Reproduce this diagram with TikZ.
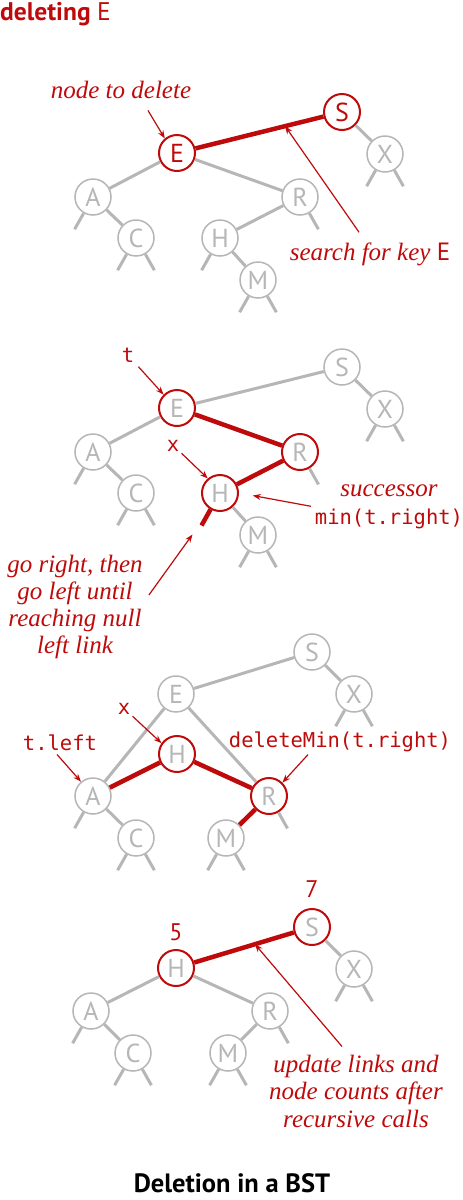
\documentclass[tikz,border=0pt]{standalone}
\usepackage{fontspec}
\setsansfont{PT Sans}
\setmonofont{DejaVu Sans Mono}
\newfontfamily\notefont{Liberation Serif}
\usepackage{tikz}
\usetikzlibrary{arrows.meta,positioning}
\definecolor{bookred}{RGB}{190,10,10}
\definecolor{keygray}{RGB}{182,182,182}

% null links below a node
\newcommand{\nullL}[2][keygray]{\draw[line width=3pt,#1] (#2.240) -- ++(-9,16);}
\newcommand{\nullR}[2][keygray]{\draw[line width=3pt,#1] (#2.300) -- ++(9,16);}

\begin{document}
\begin{tikzpicture}[x=1pt,y=-1pt]
  \tikzset{
    key/.style={circle,draw=keygray,fill=white,line width=1.5pt,minimum size=36pt,inner sep=0pt,
      text=keygray,font=\fontsize{26}{26}\selectfont\sffamily},
    hit/.style={key,draw=bookred,line width=2pt},
    hitkey/.style={hit,text=bookred},
    link/.style={draw=keygray,line width=3pt},
    redlink/.style={draw=bookred,line width=4.5pt},
    note/.style={text=bookred,font=\fontsize{25}{27}\selectfont\notefont\itshape,align=center,inner sep=0pt},
    code/.style={text=bookred,font=\fontsize{20.5}{27}\selectfont\ttfamily,inner sep=0pt},
    count/.style={text=bookred,font=\fontsize{24}{27}\selectfont\sffamily,inner sep=0pt},
    callout/.style={draw=bookred,line width=1.2pt,-{Stealth[length=8pt,width=6pt]}}
  }
  \useasboundingbox (0,0) rectangle (463,1200);

  \node[anchor=base west,text=bookred,font=\fontsize{25.5}{27}\selectfont\sffamily,inner sep=0pt] (title) at (0,20)
    {\bfseries deleting \mdseries E};

  % search for E
  \node[hitkey] (S1) at (342,112) {S};
  \node[hitkey] (E1) at (177,153) {E};
  \node[key] (X1) at (385,154) {X};
  \node[key] (A1) at (93,197) {A};
  \node[key] (R1) at (300,197) {R};
  \node[key] (C1) at (136,238) {C};
  \node[key] (H1) at (220,238) {H};
  \node[key] (M1) at (258,280) {M};
  \draw[redlink] (E1) -- coordinate[pos=0.7] (k1) (S1);
  \draw[link] (S1) -- (X1); \draw[link] (E1) -- (A1); \draw[link] (E1) -- (R1);
  \draw[link] (A1) -- (C1); \draw[link] (R1) -- (H1); \draw[link] (H1) -- (M1);
  \nullL{A1} \nullL{C1} \nullR{C1} \nullL{H1} \nullL{M1} \nullR{M1} \nullR{R1} \nullL{X1} \nullR{X1}
  \node[note,anchor=base] (del) at (121,98) {node to delete};
  \draw[callout] ([xshift=27pt,yshift=-12pt]del.south) -- (E1.130);
  \node[note,anchor=base] (srch) at (370,260) {search for key \textsf{\upshape E}};
  \draw[callout] ([xshift=-11pt,yshift=10pt]srch.north) -- (k1);

  % find the successor
  \node[key] (S2) at (342,367) {S};
  \node[hit] (E2) at (177,408) {E};
  \node[key] (X2) at (385,409) {X};
  \node[key] (A2) at (93,452) {A};
  \node[hit] (R2) at (300,452) {R};
  \node[key] (C2) at (136,493) {C};
  \node[hit] (H2) at (220,493) {H};
  \node[key] (M2) at (258,535) {M};
  \draw[link] (E2) -- (S2); \draw[link] (S2) -- (X2); \draw[link] (E2) -- (A2);
  \draw[link] (A2) -- (C2); \draw[link] (H2) -- (M2);
  \draw[redlink] (E2) -- (R2); \draw[redlink] (R2) -- (H2);
  \draw[redlink] (H2.240) -- ++(-9,16) coordinate (nl2);
  \nullL{A2} \nullL{C2} \nullR{C2} \nullL{M2} \nullR{M2} \nullR{R2} \nullL{X2} \nullR{X2}
  \node[code,anchor=base] (t2) at (128,362) {t};
  \draw[callout,shorten <=6pt] (t2.south east) -- (E2.135);
  \node[code,anchor=base] (x2) at (173,451) {x};
  \draw[callout,shorten <=3pt] (x2.south east) -- (H2.130);
  \node[note,font=\fontsize{25}{28}\selectfont\notefont\itshape] (succ) at (389,507)
    {successor\\\fontsize{20.5}{28}\selectfont\ttfamily\upshape min(t.right)};
  \draw[callout,shorten <=4pt,shorten >=14pt] (succ.west) -- (H2.east);
  \node[note] (goleft) at (75,607) {go right, then\\go left until\\reaching null\\left link};
  \draw[callout] ([xshift=6pt,yshift=12pt]goleft.east) -- ([shift={(-9pt,-9pt)}]nl2);

  % replace E by its successor
  \node[key] (S3) at (312,652) {S};
  \node[key] (E3) at (176,694) {E};
  \node[key] (X3) at (354,694) {X};
  \node[hit] (H3) at (177,754) {H};
  \node[key] (A3) at (93,796) {A};
  \node[hit] (R3) at (269,796) {R};
  \node[key] (C3) at (136,838) {C};
  \node[key] (M3) at (226,838) {M};
  \draw[link] (S3) -- (E3); \draw[link] (S3) -- (X3); \draw[link] (E3) -- (A3);
  \draw[link] (E3) -- (R3); \draw[link] (A3) -- (C3);
  \draw[redlink] (A3) -- (H3); \draw[redlink] (H3) -- (R3); \draw[redlink] (R3) -- (M3);
  \nullL{A3} \nullL{C3} \nullR{C3} \nullL{M3} \nullR{M3} \nullR{R3} \nullL{X3} \nullR{X3}
  \node[code,anchor=base] (x3) at (124,714) {x};
  \draw[callout,shorten <=3pt] (x3.south east) -- (H3.145);
  \node[code,anchor=base] (tl3) at (60,750) {t.left};
  \draw[callout] ([shift={(-3pt,-4pt)}]tl3.south) -- (A3.130);
  \node[code,anchor=base] (dm3) at (340,747) {deleteMin(t.right)};
  \draw[callout] ([shift={(-32pt,-3pt)}]dm3.south) -- (R3.45);

  % counts after the calls
  \node[hit] (S4) at (312,927) {S};
  \node[hit] (H4) at (176,968) {H};
  \node[key] (X4) at (354,969) {X};
  \node[key] (A4) at (91,1011) {A};
  \node[key] (R4) at (270,1011) {R};
  \node[key] (C4) at (133,1053) {C};
  \node[key] (M4) at (228,1053) {M};
  \draw[redlink] (H4) -- coordinate[pos=0.61] (k4) (S4);
  \draw[link] (S4) -- (X4); \draw[link] (H4) -- (A4); \draw[link] (H4) -- (R4);
  \draw[link] (A4) -- (C4); \draw[link] (R4) -- (M4);
  \nullL{A4} \nullL{C4} \nullR{C4} \nullL{M4} \nullR{M4} \nullR{R4} \nullL{X4} \nullR{X4}
  \node[count,above=10pt of S4] (n7) {7};
  \node[count,above=8pt of H4] (n5) {5};
  \node[note,font=\fontsize{25}{27.5}\selectfont\notefont\itshape] (upd) at (356,1091)
    {update links and\\node counts after\\recursive calls};
  \draw[callout] ([xshift=-14pt,yshift=8pt]upd.north) -- (k4);

  \node[anchor=base,font=\fontsize{26.5}{27}\selectfont\sffamily\bfseries,inner sep=0pt] (cap) at (232,1192)
    {Deletion in a BST};
\end{tikzpicture}
\end{document}
